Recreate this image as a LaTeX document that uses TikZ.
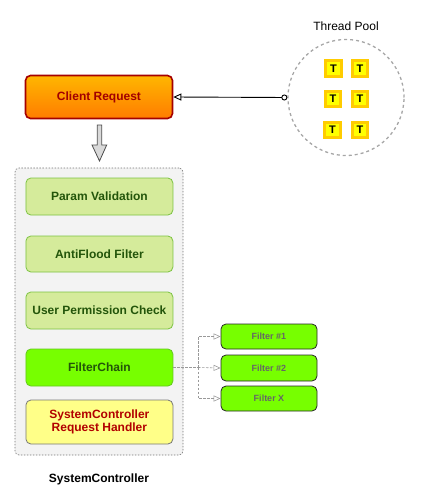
\documentclass[tikz,border=0pt]{standalone}
\usepackage{fontspec}
\setmainfont{Liberation Sans}
\usetikzlibrary{arrows.meta}
\definecolor{crtop}{RGB}{255,182,0}
\definecolor{crbot}{RGB}{255,124,0}
\definecolor{crline}{RGB}{165,0,0}
\definecolor{crtext}{RGB}{162,0,0}
\definecolor{lgfill}{RGB}{213,235,155}
\definecolor{lgline}{RGB}{125,195,66}
\definecolor{lgtext}{RGB}{35,85,10}
\definecolor{lime}{RGB}{119,255,0}
\definecolor{limeline}{RGB}{100,200,30}
\definecolor{hfill}{RGB}{255,255,136}
\definecolor{hline}{RGB}{120,120,120}
\definecolor{htext}{RGB}{178,0,0}
\definecolor{tgold}{RGB}{255,204,0}
\definecolor{tyel}{RGB}{255,255,0}
\definecolor{contfill}{RGB}{243,243,243}
\tikzset{
  fsz/.style={font=\fontsize{12}{13.6}\selectfont\bfseries},
  stagebox/.style={draw=lgline, fill=lgfill, rounded corners=5pt, minimum width=147pt, line width=0.8pt, text=lgtext, fsz, inner sep=0pt},
  filterbox/.style={draw=black!85, fill=lime, rounded corners=5pt, minimum width=96pt, line width=0.8pt, text=black!60, font=\fontsize{9}{10}\selectfont\bfseries, inner sep=0pt},
  tbox/.style={draw=tgold, fill=tyel, line width=3pt, minimum size=15.5pt, inner sep=0pt, font=\fontsize{11}{12}\selectfont\bfseries},
  dashconn/.style={draw=black!40, dash pattern=on 2.5pt off 1.5pt, line width=0.6pt, -{Triangle[open, length=7pt, width=6pt]}}
}
\begin{document}
\begin{tikzpicture}[x=1pt,y=-1pt]
\useasboundingbox (0,0) rectangle (421,501);
% client request
\node[draw=crline, line width=1.6pt, rounded corners=5pt, top color=crtop, bottom color=crbot, minimum width=147pt, minimum height=43pt, text=crtext, fsz, inner sep=0pt] (client) at (99,97) {Client Request};
% thread pool
\node[circle, draw=black!35, dash pattern=on 3pt off 3pt, line width=1.3pt, minimum size=116pt, inner sep=0pt] (pool) at (346,97.5) {};
\node[font=\fontsize{12}{14}\selectfont] (poollbl) at (346,26) {Thread Pool};
\node[tbox] (t1) at (333.5,68.3) {T};
\node[tbox] (t2) at (360,68.3) {T};
\node[tbox] (t3) at (333,99) {T};
\node[tbox] (t4) at (360,99) {T};
\node[tbox] (t5) at (332.5,130) {T};
\node[tbox] (t6) at (360,130) {T};
\draw[draw=black, line width=0.9pt, {Circle[open, length=6pt, width=6pt]}-{Triangle[open, length=8pt, width=7pt]}] (pool.west) -- (client.east);
% container
\node[draw=black!55, fill=contfill, dash pattern=on 1.5pt off 1.5pt, rounded corners=4pt, minimum width=168pt, minimum height=287pt, line width=0.6pt] (cont) at (99,311.5) {};
\node[fsz] (contlbl) at (99,479) {SystemController};
% block arrow
\draw[fill=black!15, draw=black!70, line width=0.8pt, line join=miter]
  (97.3,125) -- (101.7,125) -- (101.7,145) -- (106.7,145) -- (99.5,161) -- (92,145) -- (97.3,145) -- cycle;
% stages
\node[stagebox, minimum height=37pt] (param) at (99.4,196.5) {Param Validation};
\node[stagebox, minimum height=36pt] (flood) at (99.4,254) {AntiFlood Filter};
\node[stagebox, minimum height=37pt] (perm) at (99.4,310.5) {User Permission Check};
\node[stagebox, minimum height=37pt, fill=lime, draw=limeline] (fc) at (99.4,367.5) {FilterChain};
\node[stagebox, minimum height=44pt, fill=hfill, draw=hline, text=htext, align=center] (handler) at (99.4,422) {SystemController\\Request Handler};
% filters
\node[filterbox, minimum height=25pt] (f1) at (269,336.5) {Filter \#1};
\node[filterbox, minimum height=26pt] (f2) at (269,368) {Filter \#2};
\node[filterbox, minimum height=25pt] (fx) at (269,398.5) {Filter X};
\coordinate (j) at (198,367.5);
\draw[draw=black!40, dash pattern=on 2.5pt off 1.5pt, line width=0.6pt] (fc.east) -- (j);
\draw[dashconn] (j) |- (f1.west);
\draw[dashconn] (j) -- (f2.west);
\draw[dashconn] (j) |- (fx.west);
\end{tikzpicture}
\end{document}
